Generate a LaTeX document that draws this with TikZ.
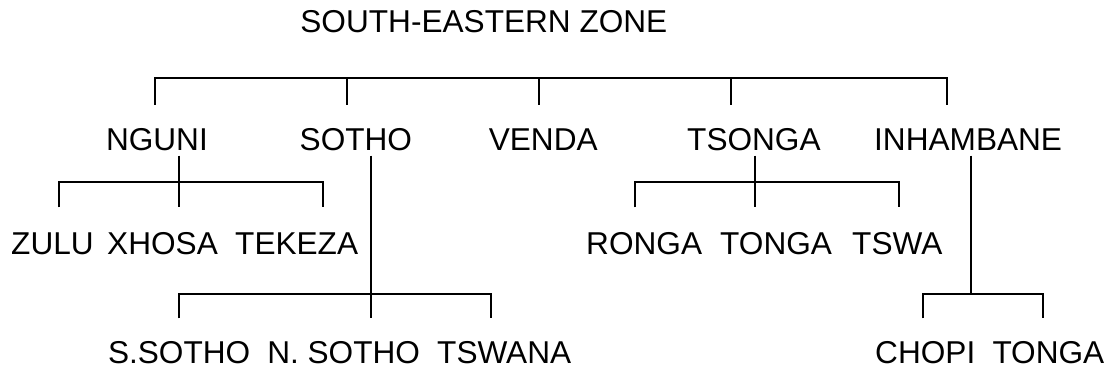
\documentclass[tikz,border=0pt]{standalone}
\usepackage{fontspec}
\setmainfont{Liberation Sans}
\begin{document}
\begin{tikzpicture}[x=1pt,y=-1pt,
  lbl/.style={anchor=base west,inner sep=0pt,font=\fontsize{31.6}{36}\selectfont},
  conn/.style={line width=2pt}]
\useasboundingbox (0,0) rectangle (1109,371);
% texts
\node[lbl] (title) at (300.2,32.3) {SOUTH-EASTERN ZONE};
\node[lbl] (nguni) at (105.8,150.4) {NGUNI};
\node[lbl] (sotho) at (299.5,150.4) {SOTHO};
\node[lbl] (venda) at (488.6,150.4) {VENDA};
\node[lbl] (tsonga) at (687,150.4) {TSONGA};
\node[lbl] (inhambane) at (874,150.4) {INHAMBANE};
\node[lbl] (zulu) at (11,255) {ZULU};
\node[lbl] (xhosa) at (107,255) {XHOSA};
\node[lbl] (tekeza) at (235,255) {TEKEZA};
\node[lbl] (ronga) at (586,255) {RONGA};
\node[lbl] (tongaA) at (720,255) {TONGA};
\node[lbl] (tswa) at (852,255) {TSWA};
\node[lbl] (ssotho) at (107.8,364) {S.SOTHO};
\node[lbl] (nsotho) at (267.1,364) {N. SOTHO};
\node[lbl] (tswana) at (437,364) {TSWANA};
\node[lbl] (chopi) at (875,364) {CHOPI};
\node[lbl] (tongaB) at (992.3,364) {TONGA};
% top bracket
\coordinate (z1) at (155,105);
\coordinate (z2) at (346.5,105);
\coordinate (z3) at (539,105);
\coordinate (z4) at (731,105);
\coordinate (z5) at (947,105);
\coordinate (zbar) at (0,78.5);
\draw[conn] (z1) -- (z1 |- zbar) -- (z5 |- zbar) -- (z5);
\foreach \c in {z2,z3,z4} \draw[conn] (\c |- zbar) -- (\c);
% NGUNI bracket
\coordinate (ns) at (178.6,155.7);
\coordinate (n1) at (59,207.5);
\coordinate (n2) at (178.6,207.5);
\coordinate (n3) at (323.2,207.5);
\coordinate (nbar) at (0,182.5);
\draw[conn] (ns) -- (n2);
\draw[conn] (n1) -- (n1 |- nbar) -- (n3 |- nbar) -- (n3);
% TSONGA bracket
\coordinate (ts) at (755.1,155.7);
\coordinate (t1) at (634.7,207.5);
\coordinate (t2) at (755.1,207.5);
\coordinate (t3) at (899,207.5);
\draw[conn] (ts) -- (t2);
\draw[conn] (t1) -- (t1 |- nbar) -- (t3 |- nbar) -- (t3);
% SOTHO bracket
\coordinate (ss) at (371,155.7);
\coordinate (s1) at (179,318.3);
\coordinate (s2) at (371,318.3);
\coordinate (s3) at (491,318.3);
\coordinate (sbar) at (0,294.3);
\draw[conn] (ss) -- (s2);
\draw[conn] (s1) -- (s1 |- sbar) -- (s3 |- sbar) -- (s3);
% INHAMBANE bracket
\coordinate (is) at (971,155.7);
\coordinate (i1) at (922.7,318.3);
\coordinate (i3) at (1042.7,318.3);
\draw[conn] (is) -- (is |- sbar);
\draw[conn] (i1) -- (i1 |- sbar) -- (i3 |- sbar) -- (i3);
\end{tikzpicture}
\end{document}
